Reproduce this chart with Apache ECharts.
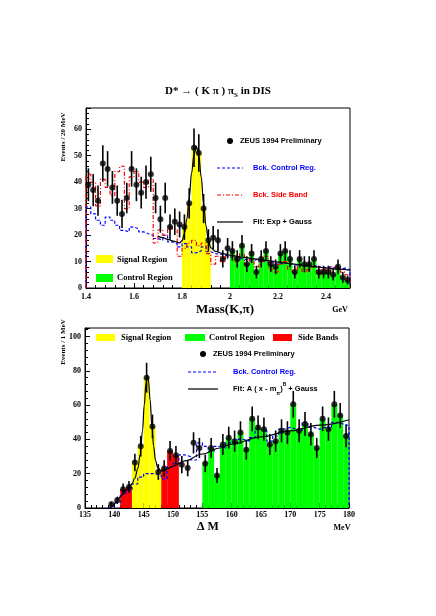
<!DOCTYPE html>
<html><head><meta charset="utf-8">
<script src="https://cdn.jsdelivr.net/npm/echarts@6/dist/echarts.min.js"></script>
<style>html,body{margin:0;padding:0;background:#fff}#c{width:436px;height:616px}</style>
</head><body><div id="c"></div>
<script>
// ---------- Top panel: Mass(K,pi), 20 MeV bins ----------
const massCenters = [1.41,1.43,1.45,1.47,1.49,1.51,1.53,1.55,1.57,1.59,1.61,1.63,1.65,1.67,1.69,1.71,1.73,1.75,1.77,1.79,
  1.81,1.83,1.85,1.87,1.89,1.91,1.93,1.95,1.97,1.99,2.01,2.03,2.05,2.07,2.09,2.11,2.13,2.15,2.17,2.19,
  2.21,2.23,2.25,2.27,2.29,2.31,2.33,2.35,2.37,2.39,2.41,2.43,2.45,2.47,2.49];
const massCounts = [39,37,33,47,45,38,33,28,34,45, 39,36,40,43,34,26,34,23,25,24,
  23,32,53,51,30,18,19,18,11,15, 14,11,16,9,13,6,11,14,9,8,
  13,14,11,6,11,9,9,11,6,6, 6,5,8,4,3];
const massErrors = [6.2,6.1,5.7,6.9,6.7,6.2,5.7,5.3,5.8,6.7, 6.2,6.0,6.3,6.6,5.8,5.1,5.8,4.8,5.0,4.9,
  4.8,5.7,7.3,7.1,5.5,4.2,4.4,4.2,3.3,3.9, 3.7,3.3,4.0,3.0,3.6,2.4,3.3,3.7,3.0,2.8,
  3.6,3.7,3.3,2.4,3.3,3.0,3.0,3.3,2.4,2.4, 2.4,2.2,2.8,2.0,1.7];
const massControlBkg = [30.6,28,25.6,23.7,26.8,25.6,23.7,21.8,21.2,23, 22.4,21.2,20.5,19.9,18.7,18,19.9,17.4,16.8,15.5,
  16.8,15.5,13.3,14,15.5,13.7,13,12.8,12.4,11.8, 11.5,11.2,10.8,10.5,10.5,10.9,10.1,9.6,10.2,9.4,
  9.1,9.5,8.8,8.6,9.0,8.3,8.1,8.4,7.8,7.6, 8.0,7.4,7.2,7.5,6.9];
const massSideBand = [43,40,31,41,38,35,44,46,30,42, 44,40,38,41,17,22,20,23,22,12,
  15,17,18,16,17,13,9,12,10,12, 12,10,13,9,11,8,10,12,7,6,
  9,10,7,6,8,6,7,8,5,7, 6,8,8,6,5];
const massFit = [[1.70,19.6],[1.72,19.0],[1.74,18.4],[1.76,17.8],[1.78,17.3],[1.79,17.0],[1.80,17.8],[1.81,20.5],
  [1.82,26],[1.83,34],[1.84,43.5],[1.85,50.5],[1.86,53.5],[1.87,50],[1.88,42],[1.89,32],[1.90,23.5],[1.91,18],
  [1.92,15.2],[1.94,13.8],[1.97,13.0],[2.00,12.4],[2.05,11.7],[2.10,11.0],[2.15,10.4],[2.20,9.8],[2.25,9.2],
  [2.30,8.6],[2.35,8.1],[2.40,7.6],[2.45,7.1],[2.50,6.7]];
const massBinWidth = 0.02;
const massSignalRange = [1.80, 1.92];
const massControlRange = [2.00, 2.50];

// ---------- Bottom panel: Delta M, 1 MeV bins ----------
const dmCenters = [139.5,140.5,141.5,142.5,143.5,144.5,145.5,146.5,147.5,148.5,149.5,150.5,151.5,152.5,153.5,154.5,
  155.5,156.5,157.5,158.5,159.5,160.5,161.5,162.5,163.5,164.5,165.5,166.5,167.5,168.5,169.5,170.5,
  171.5,172.5,173.5,174.5,175.5,176.5,177.5,178.5,179.5];
const dmCounts = [2.2,4.5,11,12.3,26.5,36,76,47.6,21,23, 33.3,30.7,25.3,23.3,38,35,26,35,19,37,
  41,39,44,34,52,47,46,37,39,45, 44,60.5,45,49,43,35,52,46,60.5,54, 42];
const dmErrors = [1.5,2.1,3.3,3.5,5.1,6.0,8.7,6.9,4.6,4.8, 5.8,5.5,5.0,4.8,6.2,5.9,5.1,5.9,4.4,6.1,
  6.4,6.2,6.6,5.8,7.2,6.9,6.8,6.1,6.2,6.7, 6.6,7.8,6.7,7.0,6.6,5.9,7.2,6.8,7.8,7.3, 6.5];
const dmControlBkg = [1,3,8,10,14,18,20,20,19,17, 24,26,31,30,28,38,36,33,36,35,
  38,37,40,39,41,46,45,39,42,46, 47,46,45,50,47,46,47,46,50,49, 48];
const dmFit = [[139.3,0],[139.8,1.5],[140.3,3.8],[141,6.5],[141.5,8.5],[142,10.3],[142.5,12],[143,14.2],[143.5,17.5],
  [144,23],[144.4,31],[144.8,45],[145.1,60],[145.4,73],[145.6,77.5],[145.8,75],[146.1,63],[146.4,48],[146.7,36],
  [147,28],[147.4,23.5],[148,21.5],[149,22.8],[150,24.5],[152,27.5],[155,31.5],[158,35],[160,37.3],[165,41.5],
  [170,45],[175,48.3],[180,51.5]];
const dmBinWidth = 1;
const dmSignalRange = [143, 148];
const dmSideRanges = [[141, 143], [148, 151]];
const dmControlRange = [155, 180];

// ---------- helpers ----------
function histData(centers, vals, w, ranges) {
  const out = [];
  centers.forEach((c, i) => {
    if (ranges.some(r => c > r[0] && c < r[1])) out.push([c - w / 2, c + w / 2, vals[i]]);
  });
  return out;
}
function stepData(centers, vals, w) {
  const n = centers.length;
  const d = [[centers[0] - w / 2, 0]];
  for (let i = 0; i < n; i++) d.push([centers[i] - w / 2, vals[i]]);
  d.push([centers[n - 1] + w / 2, vals[n - 1]]);
  d.push([centers[n - 1] + w / 2, 0]);
  return d;
}
function histRender(color) {
  return function (params, api) {
    const a = api.coord([api.value(0), 0]);
    const b = api.coord([api.value(1), api.value(2)]);
    return { type: 'rect', shape: { x: a[0], y: b[1], width: b[0] - a[0], height: a[1] - b[1] }, style: { fill: color } };
  };
}
function errRender(params, api) {
  const x = api.value(0), y = api.value(1), e = api.value(2);
  const p1 = api.coord([x, y - e]), p2 = api.coord([x, y + e]);
  return { type: 'line', shape: { x1: p1[0], y1: p1[1], x2: p2[0], y2: p2[1] }, style: { stroke: '#000', lineWidth: 1.6 } };
}
function pts(centers, vals) { return centers.map((c, i) => [c, vals[i]]); }
function errs(centers, vals, es) { return centers.map((c, i) => [c, vals[i], es[i]]); }

const serif = 'Liberation Serif';
const sans = 'Liberation Sans';
const tickLbl = { fontFamily: serif, fontWeight: 'bold', fontSize: 8, color: '#000' };

function axisCommon() {
  return {
    axisLine: { show: true, onZero: false, lineStyle: { color: '#000', width: 1 } },
    axisTick: { show: true, inside: true, length: 5, lineStyle: { color: '#000' } },
    minorTick: { show: true, splitNumber: 5, length: 3, lineStyle: { color: '#000' } },
    splitLine: { show: false }
  };
}

const option = {
  animation: false,
  backgroundColor: '#fff',
  title: {
    text: '{a|D* → ( K π ) π}{s|S}{a| in DIS}',
    left: 'center', top: 78,
    textStyle: {
      rich: {
        a: { fontFamily: serif, fontWeight: 'bold', fontSize: 11, color: '#000', lineHeight: 16 },
        s: { fontFamily: serif, fontWeight: 'bold', fontSize: 7, color: '#000', verticalAlign: 'bottom' }
      }
    }
  },
  grid: [
    { left: 86, top: 108, width: 264, height: 180, show: true, borderColor: '#000', borderWidth: 1, backgroundColor: 'transparent' },
    { left: 85, top: 328, width: 264, height: 180, show: true, borderColor: '#000', borderWidth: 1, backgroundColor: 'transparent' }
  ],
  xAxis: [
    Object.assign(axisCommon(), { gridIndex: 0, type: 'value', min: 1.4, max: 2.5, interval: 0.2,
      axisLabel: Object.assign({ margin: 5, showMaxLabel: false }, tickLbl) }),
    Object.assign(axisCommon(), { gridIndex: 1, type: 'value', min: 135, max: 180, interval: 5,
      axisLabel: Object.assign({ margin: 3 }, tickLbl) })
  ],
  yAxis: [
    Object.assign(axisCommon(), { gridIndex: 0, type: 'value', min: 0, max: 68, interval: 10,
      axisLabel: Object.assign({ margin: 4, showMaxLabel: false }, tickLbl) }),
    Object.assign(axisCommon(), { gridIndex: 1, type: 'value', min: 0, max: 105, interval: 20,
      axisLabel: Object.assign({ margin: 4, showMaxLabel: false }, tickLbl) })
  ],
  series: [
    // top panel
    { type: 'custom', xAxisIndex: 0, yAxisIndex: 0, renderItem: histRender('#ffff00'), encode: { x: [0, 1], y: 2 },
      data: histData(massCenters, massCounts, massBinWidth, [massSignalRange]), z: 1, clip: true },
    { type: 'custom', xAxisIndex: 0, yAxisIndex: 0, renderItem: histRender('#00ff00'), encode: { x: [0, 1], y: 2 },
      data: histData(massCenters, massCounts, massBinWidth, [massControlRange]), z: 1, clip: true },
    { type: 'line', xAxisIndex: 0, yAxisIndex: 0, step: 'end', showSymbol: false, z: 3,
      lineStyle: { color: '#0000ff', width: 1.2, type: [3, 2] }, data: stepData(massCenters, massControlBkg, massBinWidth) },
    { type: 'line', xAxisIndex: 0, yAxisIndex: 0, step: 'end', showSymbol: false, z: 3,
      lineStyle: { color: '#ff0000', width: 1.2, type: [4, 2, 1, 2] }, data: stepData(massCenters, massSideBand, massBinWidth) },
    { type: 'line', xAxisIndex: 0, yAxisIndex: 0, smooth: 0.4, smoothMonotone: 'x', showSymbol: false, z: 4,
      lineStyle: { color: '#000', width: 1.2 }, data: massFit },
    { type: 'custom', xAxisIndex: 0, yAxisIndex: 0, renderItem: errRender, encode: { x: 0, y: 1 },
      data: errs(massCenters, massCounts, massErrors), z: 5, clip: true },
    { type: 'scatter', xAxisIndex: 0, yAxisIndex: 0, symbol: 'circle', symbolSize: 6, z: 6,
      itemStyle: { color: '#000' }, data: pts(massCenters, massCounts) },
    // bottom panel
    { type: 'custom', xAxisIndex: 1, yAxisIndex: 1, renderItem: histRender('#ffff00'), encode: { x: [0, 1], y: 2 },
      data: histData(dmCenters, dmCounts, dmBinWidth, [dmSignalRange]), z: 1, clip: true },
    { type: 'custom', xAxisIndex: 1, yAxisIndex: 1, renderItem: histRender('#ff0000'), encode: { x: [0, 1], y: 2 },
      data: histData(dmCenters, dmCounts, dmBinWidth, dmSideRanges), z: 1, clip: true },
    { type: 'custom', xAxisIndex: 1, yAxisIndex: 1, renderItem: histRender('#00ff00'), encode: { x: [0, 1], y: 2 },
      data: histData(dmCenters, dmCounts, dmBinWidth, [dmControlRange]), z: 1, clip: true },
    { type: 'line', xAxisIndex: 1, yAxisIndex: 1, step: 'end', showSymbol: false, z: 3,
      lineStyle: { color: '#0000ff', width: 1.2, type: [3, 2] }, data: stepData(dmCenters, dmControlBkg, dmBinWidth) },
    { type: 'line', xAxisIndex: 1, yAxisIndex: 1, smooth: 0.4, smoothMonotone: 'x', showSymbol: false, z: 4,
      lineStyle: { color: '#000', width: 1.2 }, data: dmFit },
    { type: 'custom', xAxisIndex: 1, yAxisIndex: 1, renderItem: errRender, encode: { x: 0, y: 1 },
      data: errs(dmCenters, dmCounts, dmErrors), z: 5, clip: true },
    { type: 'scatter', xAxisIndex: 1, yAxisIndex: 1, symbol: 'circle', symbolSize: 6, z: 6,
      itemStyle: { color: '#000' }, data: pts(dmCenters, dmCounts) }
  ],
  graphic: [
    // top legend (right)
    { type: 'circle', shape: { cx: 230, cy: 141, r: 3 }, style: { fill: '#000' }, z: 10 },
    { type: 'text', x: 240, y: 141, style: { text: 'ZEUS 1994 Preliminary', fill: '#000', font: 'bold 7.5px "Liberation Sans"', textVerticalAlign: 'middle' }, z: 10 },
    { type: 'line', shape: { x1: 217, y1: 168, x2: 243, y2: 168 }, style: { stroke: '#0000ff', lineWidth: 1.2, lineDash: [3, 2] }, z: 10 },
    { type: 'text', x: 253, y: 168, style: { text: 'Bck. Control Reg.', fill: '#0000ff', font: 'bold 7.5px "Liberation Sans"', textVerticalAlign: 'middle' }, z: 10 },
    { type: 'line', shape: { x1: 217, y1: 195, x2: 243, y2: 195 }, style: { stroke: '#ff0000', lineWidth: 1.2, lineDash: [4, 2, 1, 2] }, z: 10 },
    { type: 'text', x: 253, y: 195, style: { text: 'Bck. Side Band', fill: '#ff0000', font: 'bold 7.5px "Liberation Sans"', textVerticalAlign: 'middle' }, z: 10 },
    { type: 'line', shape: { x1: 217, y1: 222, x2: 243, y2: 222 }, style: { stroke: '#000', lineWidth: 1.2 }, z: 10 },
    { type: 'text', x: 253, y: 222, style: { text: 'Fit: Exp + Gauss', fill: '#000', font: 'bold 7.5px "Liberation Sans"', textVerticalAlign: 'middle' }, z: 10 },
    // top legend (left)
    { type: 'rect', shape: { x: 96, y: 255, width: 17, height: 8 }, style: { fill: '#ffff00' }, z: 10 },
    { type: 'text', x: 117, y: 259.5, style: { text: 'Signal Region', fill: '#000', font: 'bold 8.5px "Liberation Serif"', textVerticalAlign: 'middle' }, z: 10 },
    { type: 'rect', shape: { x: 96, y: 274, width: 17, height: 8 }, style: { fill: '#00ff00' }, z: 10 },
    { type: 'text', x: 117, y: 278, style: { text: 'Control Region', fill: '#000', font: 'bold 8.5px "Liberation Serif"', textVerticalAlign: 'middle' }, z: 10 },
    // top axis names
    { type: 'text', x: 63, y: 137, rotation: Math.PI / 2, style: { text: 'Events / 20 MeV', fill: '#000', font: 'bold 7px "Liberation Serif"', textAlign: 'center', textVerticalAlign: 'middle' }, z: 10 },
    { type: 'text', x: 225, y: 310, style: { text: 'Mass(K,π)', fill: '#000', font: 'bold 13px "Liberation Serif"', textAlign: 'center', textVerticalAlign: 'middle' }, z: 10 },
    { type: 'text', x: 340, y: 310, style: { text: 'GeV', fill: '#000', font: 'bold 8px "Liberation Serif"', textAlign: 'center', textVerticalAlign: 'middle' }, z: 10 },
    // bottom legend
    { type: 'rect', shape: { x: 96, y: 334, width: 19, height: 7 }, style: { fill: '#ffff00' }, z: 10 },
    { type: 'text', x: 121, y: 337.5, style: { text: 'Signal Region', fill: '#000', font: 'bold 8.5px "Liberation Serif"', textVerticalAlign: 'middle' }, z: 10 },
    { type: 'rect', shape: { x: 185, y: 334, width: 20, height: 7 }, style: { fill: '#00ff00' }, z: 10 },
    { type: 'text', x: 209, y: 337.5, style: { text: 'Control Region', fill: '#000', font: 'bold 8.5px "Liberation Serif"', textVerticalAlign: 'middle' }, z: 10 },
    { type: 'rect', shape: { x: 273, y: 334, width: 19, height: 7 }, style: { fill: '#ff0000' }, z: 10 },
    { type: 'text', x: 298, y: 337.5, style: { text: 'Side Bands', fill: '#000', font: 'bold 8.5px "Liberation Serif"', textVerticalAlign: 'middle' }, z: 10 },
    { type: 'circle', shape: { cx: 203, cy: 354, r: 3 }, style: { fill: '#000' }, z: 10 },
    { type: 'text', x: 213, y: 354, style: { text: 'ZEUS 1994 Preliminary', fill: '#000', font: 'bold 7.5px "Liberation Sans"', textVerticalAlign: 'middle' }, z: 10 },
    { type: 'line', shape: { x1: 188, y1: 372, x2: 217, y2: 372 }, style: { stroke: '#0000ff', lineWidth: 1.2, lineDash: [3, 2] }, z: 10 },
    { type: 'text', x: 233, y: 372, style: { text: 'Bck. Control Reg.', fill: '#0000ff', font: 'bold 7.5px "Liberation Sans"', textVerticalAlign: 'middle' }, z: 10 },
    { type: 'line', shape: { x1: 188, y1: 389, x2: 218, y2: 389 }, style: { stroke: '#000', lineWidth: 1.2 }, z: 10 },
    { type: 'text', x: 233, y: 389, style: {
        text: '{a|Fit: A ( x - m}{s|π}{a|)}{p|B}{a| + Gauss}', textVerticalAlign: 'middle',
        rich: {
          a: { fontFamily: sans, fontWeight: 'bold', fontSize: 7.5, fill: '#000', lineHeight: 14 },
          s: { fontFamily: sans, fontWeight: 'bold', fontSize: 5, fill: '#000', verticalAlign: 'bottom' },
          p: { fontFamily: sans, fontWeight: 'bold', fontSize: 5, fill: '#000', verticalAlign: 'top' }
        } }, z: 10 },
    // bottom axis names
    { type: 'text', x: 63, y: 342, rotation: Math.PI / 2, style: { text: 'Events / 1 MeV', fill: '#000', font: 'bold 7px "Liberation Serif"', textAlign: 'center', textVerticalAlign: 'middle' }, z: 10 },
    { type: 'text', x: 208, y: 527, style: { text: 'Δ M', fill: '#000', font: 'bold 12px "Liberation Serif"', textAlign: 'center', textVerticalAlign: 'middle' }, z: 10 },
    { type: 'text', x: 342, y: 528, style: { text: 'MeV', fill: '#000', font: 'bold 8px "Liberation Serif"', textAlign: 'center', textVerticalAlign: 'middle' }, z: 10 }
  ]
};

const chart = echarts.init(document.getElementById('c'));
chart.setOption(option);
</script>
</body></html>
